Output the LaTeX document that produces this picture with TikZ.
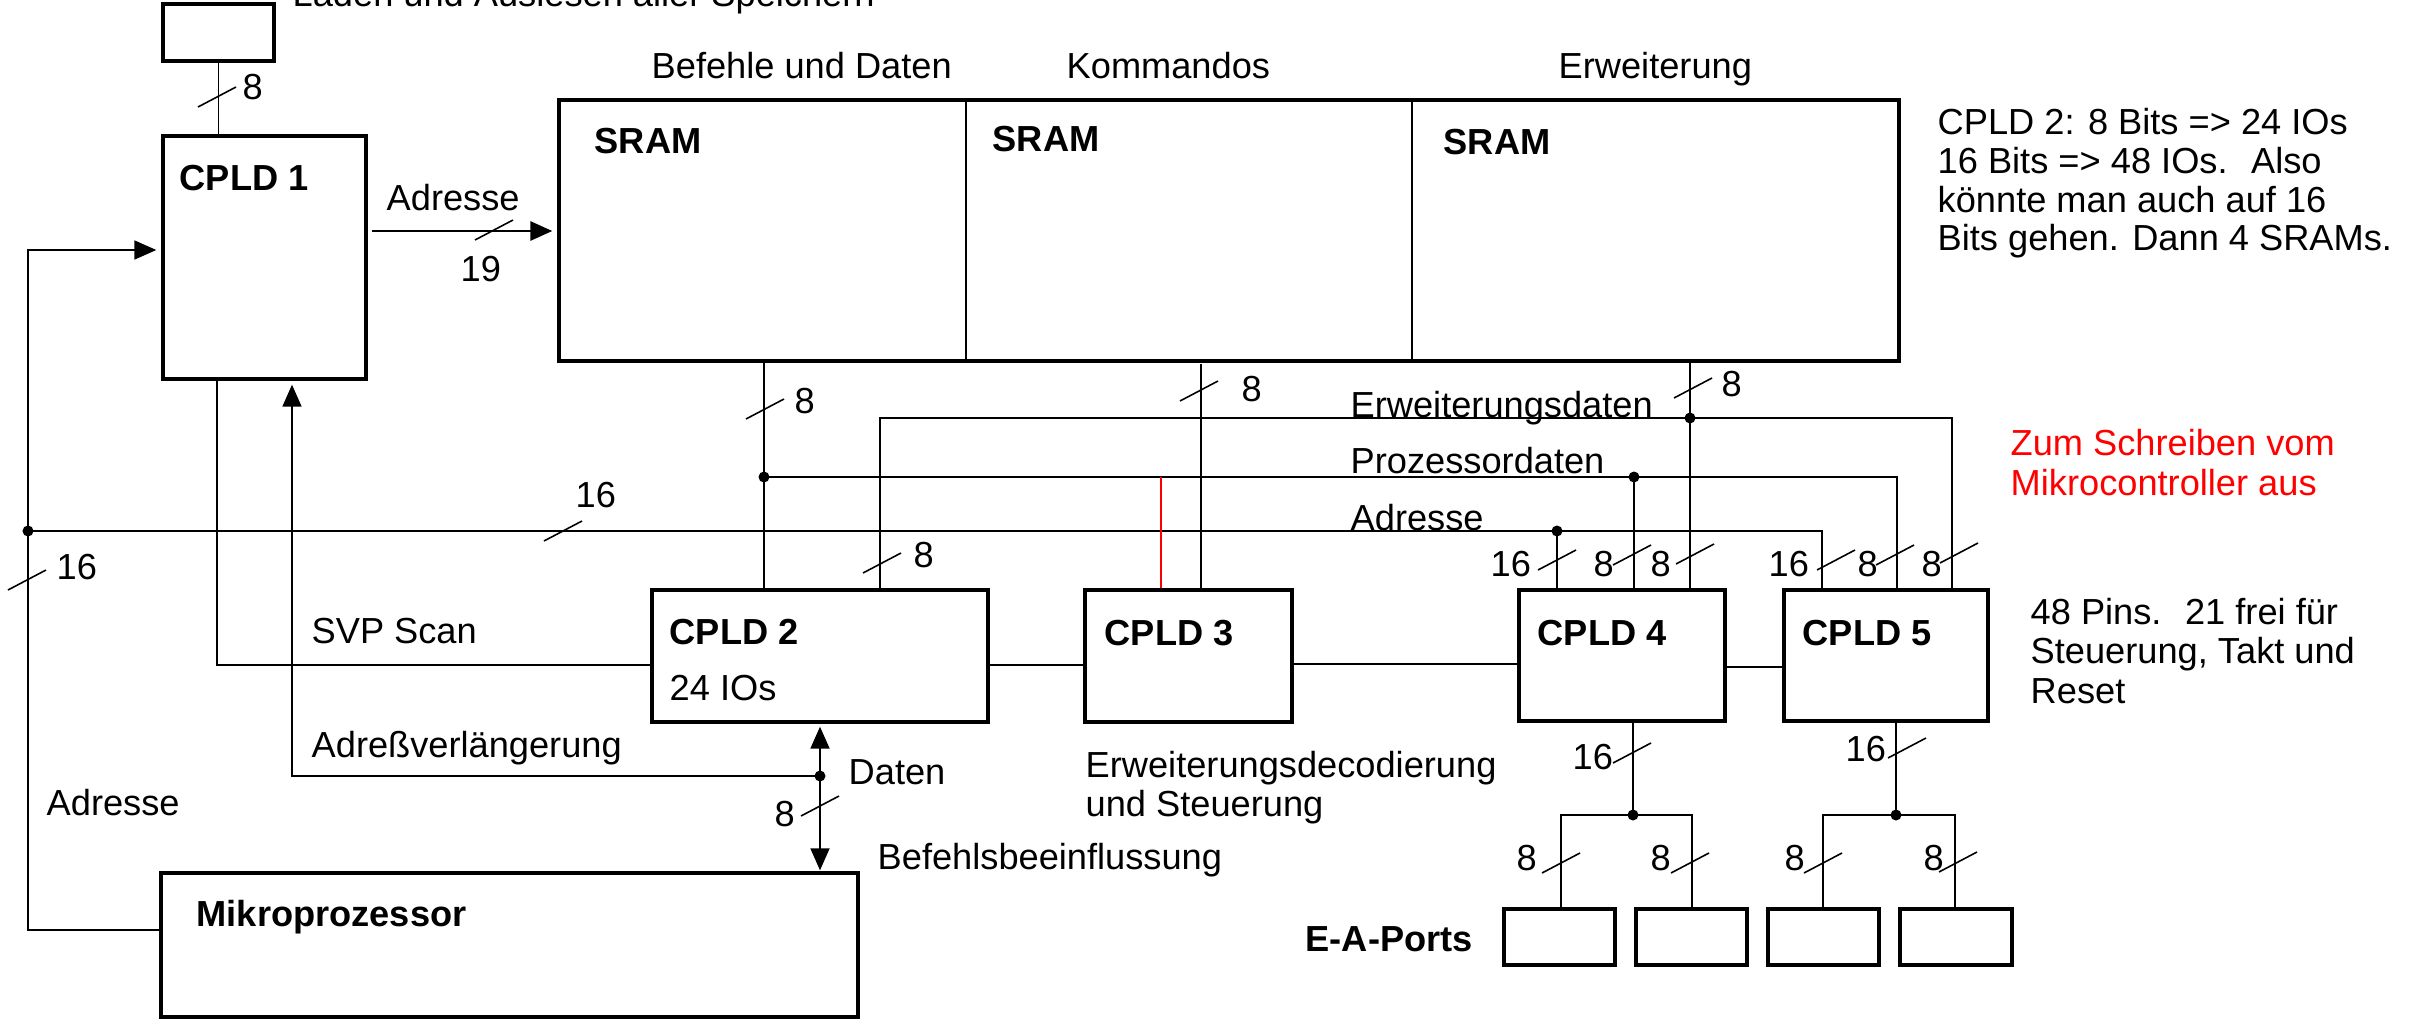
\documentclass[tikz,border=0pt]{standalone}
\usepackage{fontspec}
\setmainfont{Liberation Sans}
\usetikzlibrary{arrows.meta,fit}
\newcommand\tk[2]{\draw[tkl] (#1-19,#2+10) -- (#1+19,#2-10);}
\begin{document}
\begin{tikzpicture}[x=0.01cm,y=-0.01cm,
  box/.style={draw, line width=0.95pt, inner sep=0pt},
  ln/.style={line width=0.5pt},
  tkl/.style={line width=0.45pt},
  arr/.style={-{Triangle[length=2.2mm,width=1.9mm]}},
  darr/.style={{Triangle[length=2.2mm,width=1.9mm]}-{Triangle[length=2.2mm,width=1.9mm]}},
  lbl/.style={inner sep=0pt, anchor=base west, font=\fontsize{10.3}{11.2}\selectfont},
  blbl/.style={inner sep=0pt, anchor=base west, font=\fontsize{10.3}{11.2}\selectfont\bfseries},
  dot/.style={circle, fill, inner sep=0pt, minimum size=1.1mm}
]
\useasboundingbox (0,0) rectangle (2430,1021);

% boxes
\node[box, fit={(163,4) (274,61)}] (small) {};
\node[box, fit={(163,136) (366,379)}] (cpld1) {};
\node[box, fit={(559,100) (1899,361)}] (sram) {};
\node[box, fit={(652,590) (988,722)}] (cpld2) {};
\node[box, fit={(1085,590) (1292,722)}] (cpld3) {};
\node[box, fit={(1519,590) (1725,721)}] (cpld4) {};
\node[box, fit={(1784,590) (1988,721)}] (cpld5) {};
\node[box, fit={(161,873) (858,1017)}] (micro) {};
\node[box, fit={(1504,909) (1615,965)}] (p1) {};
\node[box, fit={(1636,909) (1747,965)}] (p2) {};
\node[box, fit={(1768,909) (1879,965)}] (p3) {};
\node[box, fit={(1900,909) (2012,965)}] (p4) {};

% SRAM dividers
\coordinate (d1) at (966,0);
\coordinate (d2) at (1412,0);
\draw[ln] (sram.north -| d1) -- (sram.south -| d1);
\draw[ln] (sram.north -| d2) -- (sram.south -| d2);

% named coordinates
\coordinate (yA) at (0,231);
\coordinate (L1) at (28,250);
\coordinate (jL) at (28,531);
\coordinate (L2) at (28,930);
\coordinate (jAdr) at (1557,531);
\coordinate (c5a) at (1822,531);
\coordinate (svp) at (217,665);
\coordinate (jD) at (820,776);
\coordinate (av) at (292,776);
\coordinate (jP) at (764,477);
\coordinate (jP4) at (1634,477);
\coordinate (c5p) at (1897,477);
\coordinate (e2) at (880,418);
\coordinate (jE) at (1690,418);
\coordinate (c5e) at (1952,418);
\coordinate (k3) at (1201,364);
\coordinate (r3) at (1161,477);
\coordinate (h23) at (1000,665);
\coordinate (h34) at (1400,664);
\coordinate (h45) at (1750,667);
\coordinate (j4) at (1633,815);
\coordinate (a1) at (1561,815);
\coordinate (a2) at (1692,815);
\coordinate (j5) at (1896,815);
\coordinate (b1) at (1823,815);
\coordinate (b2) at (1955,815);

% connectors
\draw[ln] (small.south) -- (small.south |- cpld1.north);
\draw[line width=0.85pt, arr, shorten <=0.4mm, shorten >=0.5mm] (cpld1.east |- yA) -- (sram.west |- yA);
\draw[ln, arr, shorten >=0.5mm] (micro.west |- L2) -- (L2) -- (L1) -- (cpld1.west |- L1);
\draw[ln] (jL) -- (jAdr) -- (c5a) -- (cpld5.north -| c5a);
\draw[ln] (jAdr) -- (cpld4.north -| jAdr);
\draw[ln] (cpld1.south -| svp) -- (svp) -- (cpld2.west |- svp);
\draw[ln, arr, shorten >=0.4mm] (jD) -- (av) -- (cpld1.south -| av);
\draw[ln, darr, shorten <=0.3mm, shorten >=0.1mm] (cpld2.south -| jD) -- (micro.north -| jD);
\draw[ln] (sram.south -| jP) -- (cpld2.north -| jP);
\draw[line width=0.6pt] (jP) -- (c5p) -- (cpld5.north -| c5p);
\draw[ln] (jP4) -- (cpld4.north -| jP4);
\draw[ln] (cpld2.north -| e2) -- (e2) -- (c5e) -- (cpld5.north -| c5e);
\draw[ln] (sram.south -| jE) -- (cpld4.north -| jE);
\draw[ln] (k3) -- (cpld3.north -| k3);
\draw[red, line width=0.3pt] (r3) -- (cpld3.north -| r3);
\draw[ln] (cpld2.east |- h23) -- (cpld3.west |- h23);
\draw[ln] (cpld3.east |- h34) -- (cpld4.west |- h34);
\draw[ln] (cpld4.east |- h45) -- (cpld5.west |- h45);
\draw[ln] (cpld4.south -| j4) -- (j4);
\draw[ln] (p1.north -| a1) -- (a1) -- (a2) -- (p2.north -| a2);
\draw[ln] (cpld5.south -| j5) -- (j5);
\draw[ln] (p3.north -| b1) -- (b1) -- (b2) -- (p4.north -| b2);

% dots
\foreach \p in {jL,jP,jE,jP4,jAdr,jD,j4,j5} \node[dot] at (\p) {};

% ticks
\tk{217}{97} \tk{494}{230} \tk{563}{531} \tk{27}{580} \tk{765}{409}
\tk{882}{563} \tk{1199}{391} \tk{1693}{388} \tk{1557}{560} \tk{1632}{555}
\tk{1695}{554} \tk{1836}{560} \tk{1895}{555} \tk{1959}{553} \tk{820}{806}
\tk{1632}{753} \tk{1907}{748} \tk{1561}{863} \tk{1690}{863} \tk{1823}{863}
\tk{1958}{862}

% texts
\node[lbl] (tlad) at (292,6) {Laden und Auslesen aller Speichern};
\node[lbl] (t8a) at (242,99) {8};
\node[blbl] (tc1) at (179,190) {CPLD 1};
\node[lbl] (tadr1) at (386,210) {Adresse};
\node[lbl] (t19) at (460,281) {19};
\node[lbl] (tbef) at (651,78) {Befehle und Daten};
\node[lbl] (tkom) at (1066,78) {Kommandos};
\node[lbl] (terw) at (1558,78) {Erweiterung};
\node[blbl] (ts1) at (594,153) {SRAM};
\node[blbl] (ts2) at (992,151) {SRAM};
\node[blbl] (ts3) at (1443,154) {SRAM};
\node[lbl] (n1) at (1937,134) {CPLD 2: 8 Bits => 24 IOs};
\node[lbl] (n2) at (1937,173) {16 Bits => 48 IOs.~ Also};
\node[lbl] (n3) at (1937,212) {könnte man auch auf 16};
\node[lbl] (n4) at (1937,250) {Bits gehen. Dann 4 SRAMs.};
\node[lbl, text=red] (r1) at (2010,455) {Zum Schreiben vom};
\node[lbl, text=red] (r2) at (2010,495) {Mikrocontroller aus};
\node[lbl] (t8b) at (794,413) {8};
\node[lbl] (terwd) at (1350,417) {Erweiterungsdaten};
\node[lbl] (tproz) at (1350,473) {Prozessordaten};
\node[lbl] (tadr2) at (1350,530) {Adresse};
\node[lbl] (t8c) at (1241,401) {8};
\node[lbl] (t8d) at (1721,396) {8};
\node[lbl] (t16a) at (575,507) {16};
\node[lbl] (t16b) at (56,579) {16};
\node[lbl] (t8e) at (913,567) {8};
\node[lbl] (t16c) at (1490,576) {16};
\node[lbl] (t8f) at (1593,576) {8};
\node[lbl] (t8g) at (1650,576) {8};
\node[lbl] (t16d) at (1768,576) {16};
\node[lbl] (t8h) at (1857,576) {8};
\node[lbl] (t8i) at (1921,576) {8};
\node[lbl] (tsvp) at (311,643) {SVP Scan};
\node[blbl] (tc2) at (669,644) {CPLD 2};
\node[lbl] (t24) at (669,700) {24 IOs};
\node[lbl] (tav) at (311,757) {Adreßverlängerung};
\node[lbl] (tdat) at (848,784) {Daten};
\node[lbl] (t8j) at (774,826) {8};
\node[lbl] (tbb) at (877,869) {Befehlsbeeinflussung};
\node[lbl] (tadr3) at (46,815) {Adresse};
\node[blbl] (tmp) at (196,926) {Mikroprozessor};
\node[blbl] (tc3) at (1104,645) {CPLD 3};
\node[blbl] (tc4) at (1537,645) {CPLD 4};
\node[blbl] (tc5) at (1802,645) {CPLD 5};
\node[lbl] (tdec1) at (1085,777) {Erweiterungsdecodierung};
\node[lbl] (tdec2) at (1085,816) {und Steuerung};
\node[lbl] (t16e) at (1572,769) {16};
\node[lbl] (t16f) at (1845,761) {16};
\node[lbl] (t8k) at (1516,870) {8};
\node[lbl] (t8l) at (1650,870) {8};
\node[lbl] (t8m) at (1784,870) {8};
\node[lbl] (t8n) at (1923,870) {8};
\node[blbl] (tea) at (1305,951) {E-A-Ports};
\node[lbl] (tp1) at (2030,624) {48 Pins.~ 21 frei für};
\node[lbl] (tp2) at (2030,663) {Steuerung, Takt und};
\node[lbl] (tp3) at (2030,703) {Reset};
\end{tikzpicture}
\end{document}
